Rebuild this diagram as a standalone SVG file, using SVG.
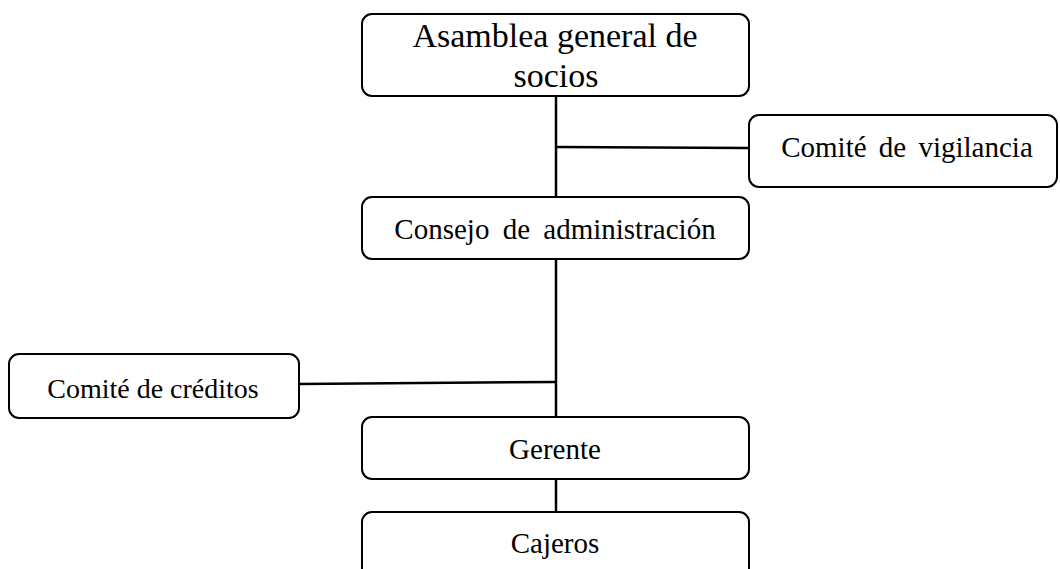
<svg xmlns="http://www.w3.org/2000/svg" width="1060" height="569" viewBox="0 0 1060 569">
<style>
.box{fill:#fff;stroke:#000;stroke-width:2}
.t{font-family:"Liberation Serif","Times New Roman",serif;font-size:29px;fill:#000;text-anchor:middle}
.big{font-size:34px}
.sm{font-size:28px}
.c{stroke:#000;stroke-width:2.5;fill:none}
</style>
<rect width="1060" height="569" fill="#fff"/>
<g id="connectors">
<line class="c" x1="556" y1="96" x2="556" y2="197"/>
<line class="c" x1="556" y1="147" x2="749" y2="148"/>
<line class="c" x1="556" y1="259" x2="556" y2="417"/>
<line class="c" x1="299" y1="384" x2="556" y2="382"/>
<line class="c" x1="556" y1="479" x2="556" y2="512"/>
</g>
<g id="asamblea">
<rect class="box" x="362" y="14" width="387" height="82" rx="10"/>
<text class="t big" x="555" y="47">Asamblea general de</text>
<text class="t big" x="556" y="87">socios</text>
</g>
<g id="vigilancia">
<rect class="box" x="749" y="115" width="308" height="72" rx="10"/>
<text class="t" x="907" y="157" word-spacing="5">Comité de vigilancia</text>
</g>
<g id="consejo">
<rect class="box" x="362" y="197" width="387" height="62" rx="10"/>
<text class="t" x="555" y="239" word-spacing="6">Consejo de administración</text>
</g>
<g id="creditos">
<rect class="box" x="9" y="354" width="290" height="64" rx="10"/>
<text class="t sm" x="153" y="398">Comité de créditos</text>
</g>
<g id="gerente">
<rect class="box" x="362" y="417" width="387" height="62" rx="10"/>
<text class="t" x="555" y="459">Gerente</text>
</g>
<g id="cajeros">
<rect class="box" x="362" y="512" width="387" height="72" rx="10"/>
<text class="t" x="555" y="553">Cajeros</text>
</g>
</svg>
